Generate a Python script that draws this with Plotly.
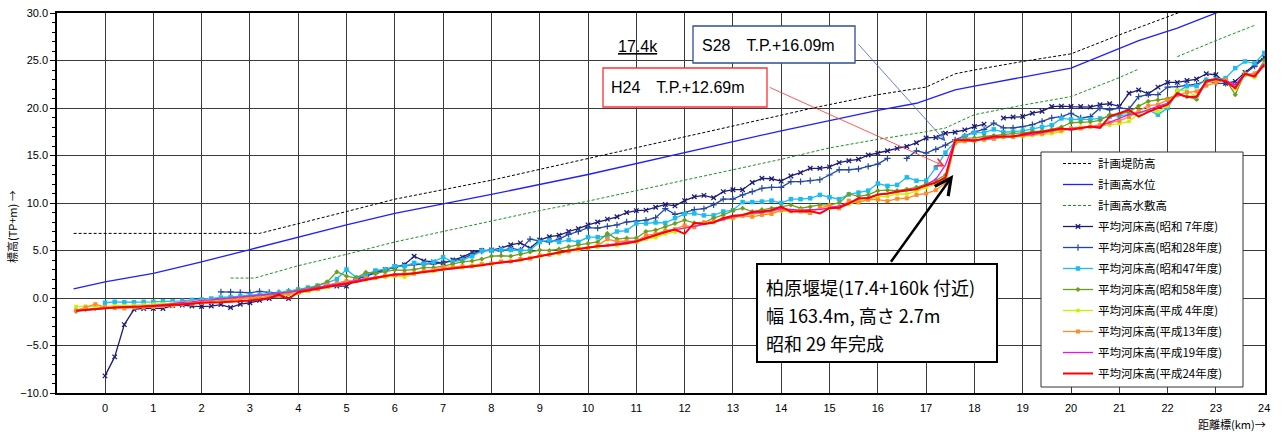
import plotly.graph_objects as go

# ---------------- data ----------------
DIST = [-0.6, -0.4, -0.2,
        0.0, 0.2, 0.4, 0.6, 0.8, 1.0, 1.2, 1.4, 1.6, 1.8,
        2.0, 2.2, 2.4, 2.6, 2.8, 3.0, 3.2, 3.4, 3.6, 3.8,
        4.0, 4.2, 4.4, 4.6, 4.8, 5.0, 5.2, 5.4, 5.6, 5.8,
        6.0, 6.2, 6.4, 6.6, 6.8, 7.0, 7.2, 7.4, 7.6, 7.8,
        8.0, 8.2, 8.4, 8.6, 8.8, 9.0, 9.2, 9.4, 9.6, 9.8,
        10.0, 10.2, 10.4, 10.6, 10.8, 11.0, 11.2, 11.4, 11.6, 11.8,
        12.0, 12.2, 12.4, 12.6, 12.8, 13.0, 13.2, 13.4, 13.6, 13.8,
        14.0, 14.2, 14.4, 14.6, 14.8, 15.0, 15.2, 15.4, 15.6, 15.8,
        16.0, 16.2, 16.4, 16.6, 16.8, 17.0, 17.2, 17.4, 17.6, 17.8,
        18.0, 18.2, 18.4, 18.6, 18.8, 19.0, 19.2, 19.4, 19.6, 19.8,
        20.0, 20.2, 20.4, 20.6, 20.8, 21.0, 21.2, 21.4, 21.6, 21.8,
        22.0, 22.2, 22.4, 22.6, 22.8, 23.0, 23.2, 23.4, 23.6, 23.8,
        24.0]

N = None
S07 = [N, N, N,
       -8.2, -6.2, -2.8, -1.2, -1.1, -1.1, -1.1, -0.8, -0.75, -0.85,
       -0.9, -0.85, -0.7, -1.0, -0.65, -0.5, -0.25, -0.05, 0.2, -0.05,
       0.65, 0.85, 1.05, 1.25, 1.25, 1.25, 1.9, 2.4, 2.75, 3.0,
       3.3, 3.5, 4.4, 3.9, 3.8, 3.7, 4.0, 4.3, 4.8, 5.0,
       5.05, 5.25, 5.6, 5.8, 5.25, 6.1, 6.45, 6.6, 7.0, 7.3,
       7.7, 8.0, 8.3, 8.55, 9.0, 9.2, 9.25, 9.55, 9.85, 9.7,
       10.25, 10.65, 10.8, 10.55, 11.2, 11.4, 11.4, 12.15, 12.6, 12.55,
       12.3, 12.85, 13.2, 13.65, 13.65, 13.8, 14.25, 14.45, 14.6, 15.05,
       15.25, 15.5, 15.75, 15.95, 16.35, 16.85, 16.9, 17.35, 17.45, 17.7,
       18.05, 18.3, N, 18.95, 19.05, 19.1, 19.45, 19.65, 20.15, 20.2,
       20.15, 20.15, 20.1, 20.35, 20.45, 20.15, 21.55, 21.9, 21.5, 22.2,
       22.7, 22.7, 22.9, 23.05, 23.6, 23.5, 22.6, 22.8, 23.75, 24.55,
       25.35]

S28 = [N, N, N,
       N, N, N, N, N, N, N, N, N, N,
       N, N, 0.65, 0.65, 0.6, 0.55, 0.7, 0.6, 0.55, 0.7,
       0.8, 0.95, 1.1, 1.3, 1.5, 1.6, 2.0, 2.3, 2.6, 2.9,
       3.25, 3.4, 3.5, 3.6, 3.6, 3.7, 3.9, 4.15, 4.6, 4.95,
       5.05, 4.95, 5.25, 5.05, 6.2, 6.0, 5.9, 6.2, 6.7, 7.0,
       7.4, 7.35, 7.55, 7.7, 8.0, 8.1, 8.2, 8.45, 9.4, 8.8,
       9.0, 9.3, 9.4, 9.8, 10.4, 10.4, 10.85, 11.2, 11.55, 11.65,
       11.65, 12.25, 12.25, 12.35, 12.45, 12.95, 13.5, 13.5, 13.6, 13.85,
       14.1, 14.7, N, 14.7, 15.5, 15.25, 15.65, 16.09, 16.65, 17.05,
       17.5, 17.75, 18.4, 17.9, 17.9, 18.05, 18.25, 18.6, 18.95, 19.1,
       19.45, 18.95, 19.1, 20.0, 19.8, 20.0, 19.9, 21.2, 21.4, 21.4,
       22.2, 22.25, 22.4, 22.5, 22.9, 22.6, 22.6, 22.4, 23.6, 24.4,
       25.2]

S47 = [N, N, N,
       -0.5, -0.4, -0.45, -0.45, -0.4, -0.4, -0.35, -0.35, -0.3, -0.2,
       -0.15, -0.05, 0.05, 0.1, 0.2, 0.3, 0.35, 0.45, 0.55, 0.7,
       0.9, 1.1, 1.3, 1.6, 2.0, 3.0, 2.15, 2.4, 2.9, 3.0,
       3.35, 3.35, 3.7, 3.6, 3.8, 4.3, 3.8, 4.0, 4.4, 4.95,
       5.0, 5.1, 5.05, 5.0, 5.05, 5.9, 6.1, 5.9, 6.1, 5.9,
       6.4, 6.4, 6.5, 7.0, 7.1, 7.85, 7.85, 7.95, 7.9, 8.4,
       8.85, 8.9, 8.7, 8.7, 9.1, 9.25, 10.1, 10.1, 10.15, 10.25,
       10.0, 10.4, 10.4, 10.5, 10.85, 10.6, 10.4, 10.9, 11.1, 11.3,
       12.05, 11.8, 11.9, 12.7, 12.35, 12.35, 13.7, 15.3, 16.45, 17.05,
       17.4, 17.4, 17.75, 17.45, 17.5, 17.6, 17.8, 18.0, 18.2, 18.9,
       18.8, 18.8, 18.8, 18.9, 19.1, 19.2, 19.3, 19.4, 19.8, 19.3,
       20.0, 21.7, 22.3, 22.3, 22.95, 23.05, 23.15, 24.2, 24.9, 24.7,
       25.8]

S58 = [-1.4, -1.2, -1.1,
       -1.0, -1.0, -1.0, -0.95, -0.9, -0.85, -0.8, -0.7, -0.6, -0.5,
       -0.4, -0.3, -0.2, -0.1, 0.0, 0.1, 0.2, 0.3, 0.45, 0.6,
       0.8, 1.0, 1.3, 1.7, 2.75, 2.3, 2.1, 2.7, 2.6, 2.75,
       2.95, 2.9, 3.0, 3.2, 3.2, 3.35, 3.6, 3.8, 3.9, 4.1,
       4.4, 4.45, 4.4, 4.6, 4.85, 5.05, 5.0, 5.15, 5.4, 5.6,
       5.75, 5.9, 6.8, 6.2, 6.3, 6.3, 7.0, 7.15, 7.5, 7.85,
       8.2, 7.9, 7.95, 8.4, 8.75, 9.2, 9.45, 9.1, 9.3, 9.45,
       9.6, 9.8, 9.45, 9.6, 9.8, 9.8, 10.0, 10.95, 10.7, 10.85,
       11.3, 11.35, 11.3, 11.45, 11.65, 12.0, 12.4, 12.95, 16.45, 16.8,
       16.85, 17.0, 17.1, 17.2, 17.3, 17.35, 17.5, 17.6, 17.75, 18.0,
       18.45, 18.5, 18.55, 18.7, 19.3, 19.35, 19.6, 20.2, 20.7, 20.85,
       21.0, 21.4, 21.2, 20.9, 22.8, 22.9, 23.0, 21.4, 23.7, 23.3,
       25.0]

H04 = [-0.9, -0.85, -0.9,
       -0.9, -0.8, -0.8, -0.75, -0.7, -0.65, -0.6, -0.55, -0.5, -0.45,
       -0.35, -0.3, -0.25, -0.2, -0.1, -0.05, 0.05, 0.1, 0.2, 0.35,
       0.5, 0.7, 0.9, 1.1, 1.4, 1.6, 1.75, 1.9, 2.1, 2.2,
       2.3, 2.2, 2.5, 2.75, 2.8, 3.0, 3.25, 3.2, 3.45, 3.6,
       3.55, 3.8, 3.9, 3.95, 4.25, 4.35, 4.6, 4.65, 4.95, 5.05,
       5.3, 5.35, 5.6, 5.5, 5.75, 5.85, 6.2, 6.35, 6.75, 6.95,
       7.4, 7.55, 7.85, 7.95, 8.25, 8.35, 8.65, 8.75, 8.95, 9.0,
       9.15, 9.1, 9.25, 9.2, 9.45, 9.45, 9.65, 9.85, 10.25, 10.35,
       10.65, 10.7, 10.95, 10.95, 11.25, 11.6, 12.0, 12.6, 16.4, 16.6,
       16.6, 16.7, 16.8, 16.9, 17.0, 17.0, 17.1, 17.2, 17.3, 17.5,
       17.9, 18.0, 18.0, 18.1, 18.2, 18.35, 18.6, 19.4, 19.8, 19.6,
       20.2, 21.9, 21.8, 21.2, 22.7, 22.8, 23.0, 22.0, 23.5, 23.2,
       24.6]

H13 = [-1.3, -1.0, -0.65,
       -0.95, -1.05, -1.1, -1.0, -1.0, -0.95, -0.85, -0.8, -0.65, -0.6,
       -0.5, -0.35, -0.3, -0.25, -0.05, 0.0, 0.05, 0.2, 0.25, 0.45,
       0.55, 0.85, 0.95, 1.35, 1.55, 1.8, 1.85, 2.1, 2.15, 2.35,
       2.4, 2.55, 2.6, 2.85, 2.95, 3.25, 3.25, 3.35, 3.35, 3.55,
       3.65, 3.85, 3.85, 4.1, 4.15, 4.5, 4.55, 4.8, 4.9, 5.2,
       5.25, 5.55, 6.2, 5.95, 6.0, 5.95, 6.6, 6.75, 7.1, 7.25,
       7.65, 7.45, 7.95, 8.05, 8.35, 8.45, 8.65, 8.55, 8.75, 8.85,
       9.25, 9.15, 9.1, 8.95, 9.5, 9.75, 9.45, 10.25, 10.05, 10.35,
       10.35, 10.2, 10.45, 10.5, 10.85, 11.0, 11.35, 12.1, 16.3, 16.5,
       16.55, 16.65, 16.75, 16.95, 16.95, 17.1, 17.25, 17.3, 17.55, 17.65,
       17.85, 17.85, 18.05, 18.2, 18.45, 18.65, 19.05, 19.7, 20.25, 20.35,
       20.85, 21.35, 21.65, 21.75, 22.35, 22.65, 22.95, 22.2, 23.55, 23.65,
       24.45]

H19 = [-1.35, -1.3, -1.2,
       -1.1, -1.0, -0.95, -0.9, -0.85, -0.8, -0.7, -0.6, -0.45, -0.4,
       -0.25, -0.2, -0.1, -0.05, 0.05, 0.15, 0.25, 0.35, 0.45, 0.6,
       0.75, 0.95, 1.1, 1.3, 1.45, 1.6, 1.85, 2.0, 2.2, 2.35,
       2.4, 2.5, 2.55, 2.75, 2.9, 3.0, 3.1, 3.25, 3.3, 3.45,
       3.6, 3.75, 3.8, 3.95, 4.2, 4.4, 4.6, 4.8, 5.0, 5.15,
       5.3, 5.45, 5.6, 5.75, 5.85, 6.0, 6.35, 6.6, 6.9, 7.2,
       7.35, 7.55, 7.75, 7.95, 8.25, 8.55, 8.7, 8.9, 9.0, 9.15,
       9.4, 9.3, 9.25, 9.3, 9.3, 9.5, 9.7, 10.0, 10.4, 10.6,
       10.85, 10.95, 11.1, 11.3, 11.5, 11.9, 12.5, 14.0, 16.6, 16.7,
       16.65, 16.7, 16.85, 17.0, 17.05, 17.1, 17.2, 17.4, 17.6, 17.8,
       17.85, 17.9, 18.0, 18.1, 18.5, 18.9, 19.3, 19.5, 19.8, 20.2,
       20.5, 21.4, 21.2, 21.1, 22.7, 23.0, 22.9, 22.4, 23.6, 23.4,
       24.7]

H24 = [-1.35, -1.25, -1.15,
       -1.05, -1.0, -0.95, -0.95, -0.9, -0.85, -0.8, -0.75, -0.7, -0.6,
       -0.5, -0.5, -0.45, -0.4, -0.35, -0.25, -0.15, 0.0, 0.35, -0.1,
       0.6, 0.8, 1.0, 1.2, 1.35, 1.5, 1.7, 1.9, 2.1, 2.3,
       2.5, 2.5, 2.6, 2.7, 2.85, 3.0, 3.1, 3.2, 3.3, 3.45,
       3.6, 3.7, 3.85, 4.0, 4.2, 4.45, 4.6, 4.8, 5.0, 5.15,
       5.3, 5.45, 5.5, 5.6, 5.75, 5.95, 6.3, 6.6, 6.95, 7.2,
       6.75, 7.9, 7.8, 7.95, 8.4, 8.65, 8.75, 9.05, 9.1, 9.25,
       9.6, 9.1, 9.1, 9.15, 8.9, 9.45, 9.5, 9.95, 10.5, 10.5,
       10.9, 11.0, 11.2, 11.3, 11.45, 11.85, 12.15, 12.69, 16.6, 16.6,
       16.55, 16.8, 17.0, 17.0, 17.0, 17.2, 17.4, 17.5, 17.7, 17.85,
       17.7, 17.9, 18.05, 17.9, 19.1, 19.45, 19.8, 19.1, 19.6, 20.0,
       20.35, 21.55, 21.15, 21.2, 22.85, 23.05, 22.8, 22.1, 23.6, 23.3,
       24.55]

# plan lines (distance, elevation)
DIKE_X = [-0.65, 3.2, 5.0, 6.0, 8.0, 10.0, 12.3, 13.6, 14.75, 16.0, 17.0, 17.6, 18.0, 19.0, 20.0, 21.0, 22.0, 23.0]
DIKE_H = [6.8, 6.8, 9.1, 10.4, 12.4, 14.7, 17.3, 18.8, 20.1, 21.4, 22.2, 23.6, 24.0, 24.9, 25.7, 27.7, 29.6, 31.5]

HWL_X = [-0.65, 0.0, 1.0, 2.0, 3.0, 4.0, 5.0, 6.0, 8.0, 10.0, 12.0, 14.0, 16.0, 16.8, 17.6, 18.0, 20.0, 21.4, 22.2, 23.0, 23.5]
HWL_H = [0.95, 1.7, 2.6, 3.8, 5.1, 6.4, 7.7, 8.9, 10.9, 13.0, 15.3, 17.6, 19.75, 20.5, 21.9, 22.3, 24.2, 27.1, 28.4, 30.0, 31.0]

BERM_X = [2.6, 3.1, 4.0, 5.0, 6.0, 7.0, 8.0, 9.0, 10.0, 11.0, 12.0, 13.0, 14.0, 15.0, 16.0, 17.0, 17.4, 18.0, 19.0, 20.0, 21.0, 21.4,
          None, 22.2, 23.0, 23.8]
BERM_H = [2.1, 2.1, 3.4, 4.6, 5.9, 7.0, 8.1, 9.2, 10.2, 11.3, 12.4, 13.5, 14.6, 15.8, 16.7, 17.5, 17.9, 19.3, 20.3, 21.2, 23.2, 24.1,
          None, 25.4, 27.1, 28.7]

X_TICKS = list(range(0, 25))
Y_TICKS = [-10, -5, 0, 5, 10, 15, 20, 25, 30]

NAMES = ["計画堤防高", "計画高水位", "計画高水敷高",
         "平均河床高(昭和 7年度)", "平均河床高(昭和28年度)", "平均河床高(昭和47年度)",
         "平均河床高(昭和58年度)", "平均河床高(平成 4年度)", "平均河床高(平成13年度)",
         "平均河床高(平成19年度)", "平均河床高(平成24年度)"]

# ---------------- figure ----------------
fig = go.Figure()
fig.add_trace(go.Scatter(x=DIKE_X, y=DIKE_H, mode="lines", name=NAMES[0], legendgroup="g0",
                         line=dict(color="#000000", width=1, dash="3px,2px")))
fig.add_trace(go.Scatter(x=HWL_X, y=HWL_H, mode="lines", name=NAMES[1], legendgroup="g1",
                         line=dict(color="#1f1fff", width=1.3)))
fig.add_trace(go.Scatter(x=BERM_X, y=BERM_H, mode="lines", name=NAMES[2], legendgroup="g2",
                         line=dict(color="#1a961a", width=1, dash="3px,2px"), connectgaps=False))

beds = [
    (S07, "#1c1c78", 1.3, dict(symbol="x-thin", size=4.5, line=dict(width=1.3, color="#1c1c78"))),
    (S28, "#2448a0", 1.3, dict(symbol="cross-thin", size=4.5, line=dict(width=1.2, color="#2448a0"))),
    (S47, "#1cbcf0", 1.3, dict(symbol="square", size=4.5, color="#1cbcf0")),
    (S58, "#6e9e1e", 1.3, dict(symbol="diamond", size=4, color="#6e9e1e")),
    (H04, "#c8f000", 1.3, dict(symbol="square", size=3.5, color="#c8f000")),
    (H13, "#ff8a28", 1.3, dict(symbol="square", size=4, color="#ff8a28")),
    (H19, "#ee10ee", 1.3, None),
    (H24, "#ff0000", 2.0, None),
]
for i, (vals, col, w, mk) in enumerate(beds):
    kw = dict(x=DIST, y=vals, name=NAMES[3 + i], legendgroup="g%d" % (3 + i),
              line=dict(color=col, width=w), connectgaps=False)
    if mk is None:
        kw["mode"] = "lines"
    else:
        kw["mode"] = "lines+markers"
        kw["marker"] = mk
    fig.add_trace(go.Scatter(**kw))

def px(xp):
    return (xp - 57) / 1208.0

def py(yp):
    return (393 - yp) / 380.0

shapes = [
    dict(type="rect", xref="paper", yref="paper", x0=px(1041), x1=px(1243), y0=py(387), y1=py(152),
         line=dict(color="#333333", width=1), fillcolor="white", layer="above"),
    dict(type="rect", xref="paper", yref="paper", x0=px(757), x1=px(997), y0=py(362), y1=py(264),
         line=dict(color="#000000", width=2), fillcolor="white", layer="above"),
    dict(type="rect", xref="paper", yref="paper", x0=px(693), x1=px(855), y0=py(63), y1=py(26),
         line=dict(color="#2f4d96", width=1.3), fillcolor="white", layer="above"),
    dict(type="rect", xref="paper", yref="paper", x0=px(603), x1=px(767), y0=py(107), y1=py(68),
         line=dict(color="#ff3030", width=1.3), fillcolor="white", layer="above"),
]

lab_font = dict(family="Liberation Sans, sans-serif", size=16, color="black")
cjk_font = dict(family="Noto Sans CJK JP, sans-serif", size=18, color="black")
annotations = [
    dict(xref="paper", yref="paper", x=px(638), y=py(47), text="<u>17.4k</u>", showarrow=False,
         font=lab_font, xanchor="center", yanchor="middle"),
    dict(xref="paper", yref="paper", x=px(700), y=py(45), text="S28　T.P.+16.09m", showarrow=False,
         font=lab_font, xanchor="left", yanchor="middle"),
    dict(xref="paper", yref="paper", x=px(609), y=py(88), text="H24　T.P.+12.69m", showarrow=False,
         font=lab_font, xanchor="left", yanchor="middle"),
    dict(xref="paper", yref="paper", x=px(764), y=py(287), text="柏原堰堤(17.4+160k 付近)", showarrow=False,
         font=cjk_font, xanchor="left", yanchor="middle"),
    dict(xref="paper", yref="paper", x=px(764), y=py(315), text="幅 163.4m, 高さ 2.7m", showarrow=False,
         font=cjk_font, xanchor="left", yanchor="middle"),
    dict(xref="paper", yref="paper", x=px(764), y=py(343), text="昭和 29 年完成", showarrow=False,
         font=cjk_font, xanchor="left", yanchor="middle"),
    dict(x=17.4, y=16.5, ax=15.57, ay=26.87, xref="x", yref="y", axref="x", ayref="y", text="",
         showarrow=True, arrowhead=5, arrowsize=2, arrowwidth=0.8, arrowcolor="#3c64b4"),
    dict(x=17.39, y=13.85, ax=13.73, ay=22.24, xref="x", yref="y", axref="x", ayref="y", text="",
         showarrow=True, arrowhead=5, arrowsize=2, arrowwidth=0.8, arrowcolor="#ff3030"),
    dict(x=17.56, y=12.96, ax=16.25, ay=3.65, xref="x", yref="y", axref="x", ayref="y", text="",
         showarrow=True, arrowhead=5, arrowsize=1.3, arrowwidth=2.5, arrowcolor="#000000"),
    dict(xref="paper", yref="paper", x=px(12), y=py(227), text="標高(TP+m) →", textangle=-90,
         showarrow=False, font=dict(family="Noto Sans CJK JP, sans-serif", size=11, color="black"),
         xanchor="center", yanchor="middle"),
    dict(xref="paper", yref="paper", x=px(1268), y=py(424), text="距離標(km)→",
         showarrow=False, font=dict(family="Noto Sans CJK JP, sans-serif", size=11, color="black"),
         xanchor="right", yanchor="middle"),
]

fig.update_layout(
    width=1282, height=434,
    margin=dict(l=57, r=17, t=13, b=41, autoexpand=False),
    paper_bgcolor="white", plot_bgcolor="white",
    font=dict(family="Liberation Sans, Noto Sans CJK JP, sans-serif", size=11, color="black"),
    showlegend=True,
    legend=dict(x=px(1058), y=py(149), xanchor="left", yanchor="top",
                bgcolor="rgba(0,0,0,0)", borderwidth=0, tracegroupgap=2,
                font=dict(family="Noto Sans CJK JP, sans-serif", size=11.5, color="#000")),
    shapes=shapes,
    annotations=annotations,
    xaxis=dict(range=[-0.994, 24.016], tickvals=X_TICKS, showgrid=True, gridcolor="#3a3a3a", gridwidth=1,
               showline=True, linecolor="black", linewidth=1.5, mirror=True, ticks="",
               zeroline=False, ticklabelstandoff=4, tickfont=dict(size=11), automargin=False),
    yaxis=dict(range=[-10, 30], tickvals=Y_TICKS, tickformat=".1f", showgrid=True, gridcolor="#3a3a3a",
               gridwidth=1, showline=True, linecolor="black", linewidth=1.5, mirror=True,
               ticks="outside", ticklen=5, tickcolor="black", zeroline=False,
               minor=dict(dtick=1, ticks="outside", ticklen=3, tickcolor="black", showgrid=False),
               tickfont=dict(size=11), automargin=False),
)

fig.write_html("out.html", config={"displayModeBar": False},
               post_script="document.body.style.margin='0px';document.body.style.overflow='hidden';")
